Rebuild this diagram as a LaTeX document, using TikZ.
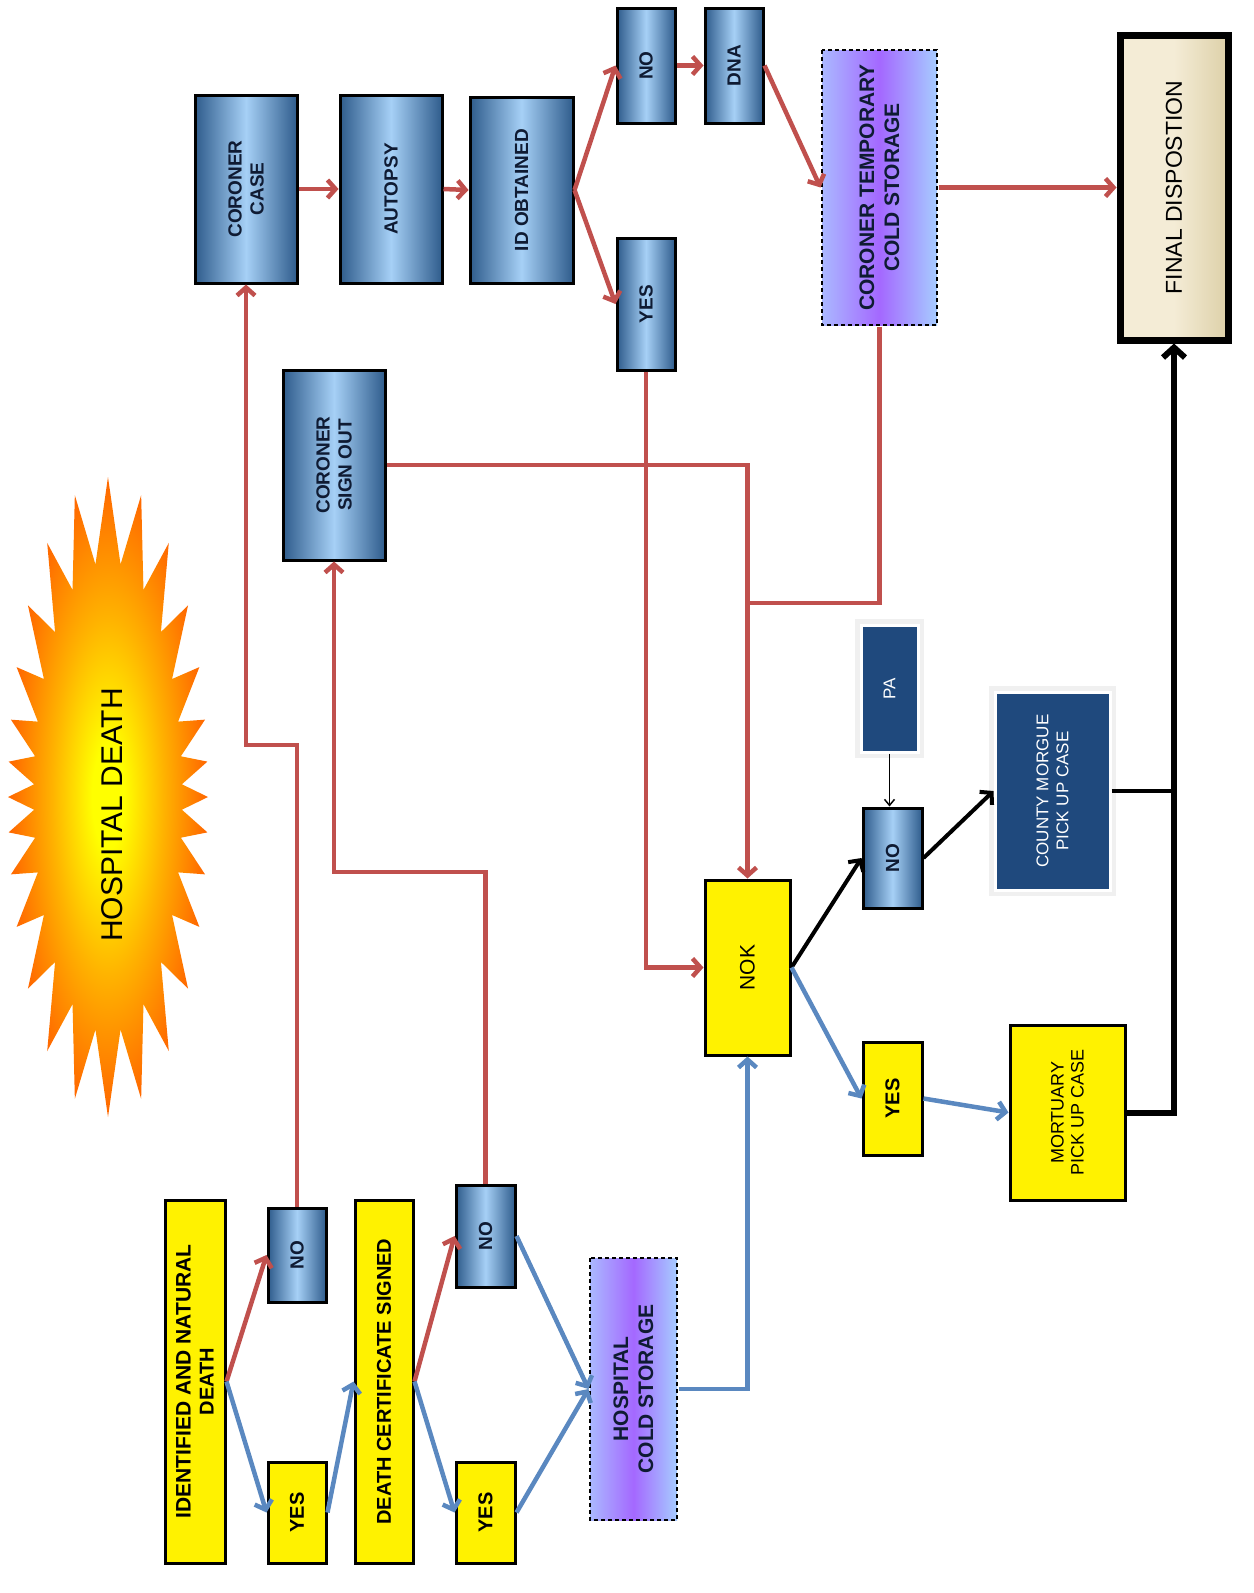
\documentclass[tikz,border=0pt]{standalone}
\usepackage{fontspec}
\setmainfont{Liberation Sans}
\usetikzlibrary{arrows.meta,calc}

\definecolor{cred}{HTML}{C0504D}
\definecolor{cblue}{HTML}{5A88C0}
\definecolor{bdark}{HTML}{2F5C8C}
\definecolor{blight}{HTML}{A6D0F6}
\definecolor{navy}{HTML}{1F497D}
\definecolor{txtnavy}{HTML}{0F1B33}
\definecolor{lav}{HTML}{AAB8FF}
\definecolor{purp}{HTML}{A468FF}
\definecolor{lblue}{HTML}{A6CCFF}
\definecolor{beige}{HTML}{F4ECD6}
\definecolor{khaki}{HTML}{DDD0A8}

\pgfdeclareradialshading{burst}{\pgfpoint{0bp}{0bp}}{%
  color(0bp)=(yellow); color(4bp)=(yellow);
  color(14bp)=(orange!60!yellow); color(24bp)=(orange!85!red);
  color(36bp)=(red!50!orange); color(50bp)=(red!65!orange)}

\tikzset{
  box/.style={rotate=90, inner sep=0pt, outer sep=1.5pt, align=center,
    draw=black, line width=3pt},
  ybox/.style={box, fill=yellow, text=black},
  yboldbox/.style={ybox, font=\bfseries\fontsize{20}{23}\selectfont},
  yregbox/.style={ybox, font=\fontsize{18}{20}\selectfont},
  bbox/.style={box, left color=bdark, right color=bdark, middle color=blight,
    text=txtnavy, font=\bfseries\fontsize{19}{22}\selectfont},
  csbox/.style={box, line width=1.2pt, dash pattern=on 4pt off 3pt,
    left color=lav, right color=lblue, middle color=purp,
    text=txtnavy, font=\bfseries\fontsize{21}{25}\selectfont},
  darkbox/.style={box, fill=navy, draw=white, line width=3pt,
    preaction={draw=black!6, line width=12pt},
    text=white, font=\fontsize{17}{20}\selectfont},
  fdbox/.style={box, line width=7pt, outer sep=3.5pt, left color=beige,
    right color=khaki, middle color=beige,
    font=\fontsize{23}{26}\selectfont},
  conn/.style={line width=4.5pt, line join=miter},
  tip/.style={-{Straight Barb[length=8pt,width=18pt]}},
  redl/.style={conn, draw=cred, tip},
  redplain/.style={conn, draw=cred},
  bluel/.style={conn, draw=cblue, tip},
  blackl/.style={line width=4pt, draw=black, tip},
  thinl/.style={line width=1.5pt, draw=black, -{Straight Barb[length=6pt,width=10pt]}},
  finall/.style={line width=6pt, draw=black, -{Straight Barb[length=10pt,width=22pt]}},
  finalplain/.style={line width=4pt, draw=black},
}

% name, x1, y1, x2, y2, style, text
\newcommand\placebox[7]{%
  \node[#6, minimum width={(#5-#3)*1pt}, minimum height={(#4-#2)*1pt}]
    (#1) at ({(#2+#4)/2},{(#3+#5)/2}) {#7};}

\begin{document}
\begin{tikzpicture}[x=1pt,y=-1pt]
\useasboundingbox (0,0) rectangle (1253,1593);
\fill[white] (0,0) rectangle (1253,1593);

% starburst
\shade[shading=burst] (208,797)
  \foreach \k in {0,...,27} {
    -- ({108+74*cos((\k+0.5)*12.857-15*sin(2*(\k+0.5)*12.857))},
        {797+236*sin((\k+0.5)*12.857-15*sin(2*(\k+0.5)*12.857))})
    -- ({108+100*cos((\k+1)*12.857-15*sin(2*(\k+1)*12.857))},
        {797+320*sin((\k+1)*12.857-15*sin(2*(\k+1)*12.857))})
  } -- cycle;
\node[rotate=90, font=\fontsize{30}{32}\selectfont, inner sep=0pt] (title) at (112,815) {HOSPITAL DEATH};

% boxes
\placebox{ident}{165}{1200}{225}{1563}{yboldbox}{\fontsize{21}{24}\selectfont IDENTIFIED AND NATURAL\\DEATH}
\placebox{no1}{268}{1208}{326}{1302}{bbox}{NO}
\placebox{yes1}{268}{1462}{326}{1563}{yboldbox}{YES}
\placebox{dc}{355}{1200}{413}{1563}{yboldbox}{DEATH CERTIFICATE SIGNED}
\placebox{no2}{456}{1185}{515}{1287}{bbox}{NO}
\placebox{yes2}{456}{1462}{515}{1563}{yboldbox}{YES}
\placebox{hcs}{590}{1258}{677}{1520}{csbox}{HOSPITAL\\COLD STORAGE}
\placebox{nok}{705}{880}{790}{1055}{yregbox}{\fontsize{21}{24}\selectfont NOK}
\placebox{yes3}{863}{1042}{922}{1155}{yboldbox}{YES}
\placebox{no3}{863}{808}{922}{908}{bbox}{NO}
\placebox{pa}{861}{625}{918}{752}{darkbox}{PA}
\placebox{cm}{995}{692}{1110}{890}{darkbox}{COUNTY MORGUE\\PICK UP CASE}
\placebox{mort}{1010}{1025}{1125}{1200}{yregbox}{MORTUARY\\PICK UP CASE}
\placebox{fd}{1120}{35}{1228}{340}{fdbox}{FINAL DISPOSTION}
\placebox{ctcs}{822}{50}{937}{325}{csbox}{CORONER TEMPORARY\\COLD STORAGE}
\placebox{cc}{195}{95}{297}{283}{bbox}{CORONER\\CASE}
\placebox{au}{340}{95}{442}{283}{bbox}{AUTOPSY}
\placebox{id}{470}{97}{573}{283}{bbox}{ID OBTAINED}
\placebox{no4}{617}{8}{675}{123}{bbox}{NO}
\placebox{dna}{705}{8}{763}{123}{bbox}{DNA}
\placebox{yes4}{617}{238}{675}{370}{bbox}{YES}
\placebox{sign}{283}{370}{385}{560}{bbox}{CORONER\\SIGN OUT}

% connectors
\draw[redl] (ident.south) -- (no1.north);
\draw[bluel] (ident.south) -- (yes1.north);
\draw[bluel] (yes1.south) -- (dc.north);
\draw[redl] (dc.south) -- (no2.north);
\draw[bluel] (dc.south) -- (yes2.north);
\draw[bluel] (no2.south) -- (hcs.north);
\draw[bluel] (yes2.south) -- (hcs.north);
\draw[redl] (no1.east) -- (no1.east |- 0,745) -| (cc.west);
\draw[redl] (no2.east) -- (no2.east |- 0,872) -| (sign.west);
\draw[bluel] (hcs.south) -| (nok.west);
\draw[redl] (yes4.west) |- (nok.north);
\draw[redl] (sign.south) -| (nok.east);
\draw[redplain] (ctcs.west) |- (nok.east |- 0,603);
\draw[redl] (cc.south) -- (au.north);
\draw[redl] (au.south) -- (id.north);
\draw[redl] (id.south) -- (no4.north);
\draw[redl] (id.south) -- (yes4.north);
\draw[redl] (no4.south) -- (dna.north);
\draw[redl] (dna.south) -- (ctcs.north);
\draw[redl] (ctcs.south) -- (fd.north);
\draw[blackl] (nok.south) -- (no3.north);
\draw[bluel] (nok.south) -- (yes3.north);
\draw[thinl] (pa.west) -- (pa.west |- no3.east);
\draw[blackl] (no3.south) -- (cm.north);
\draw[bluel] (yes3.south) -- (mort.north);
\draw[finalplain] (cm.south) -- (cm.south -| fd.west);
\draw[finall] (mort.south) -| (fd.west);
\end{tikzpicture}
\end{document}
